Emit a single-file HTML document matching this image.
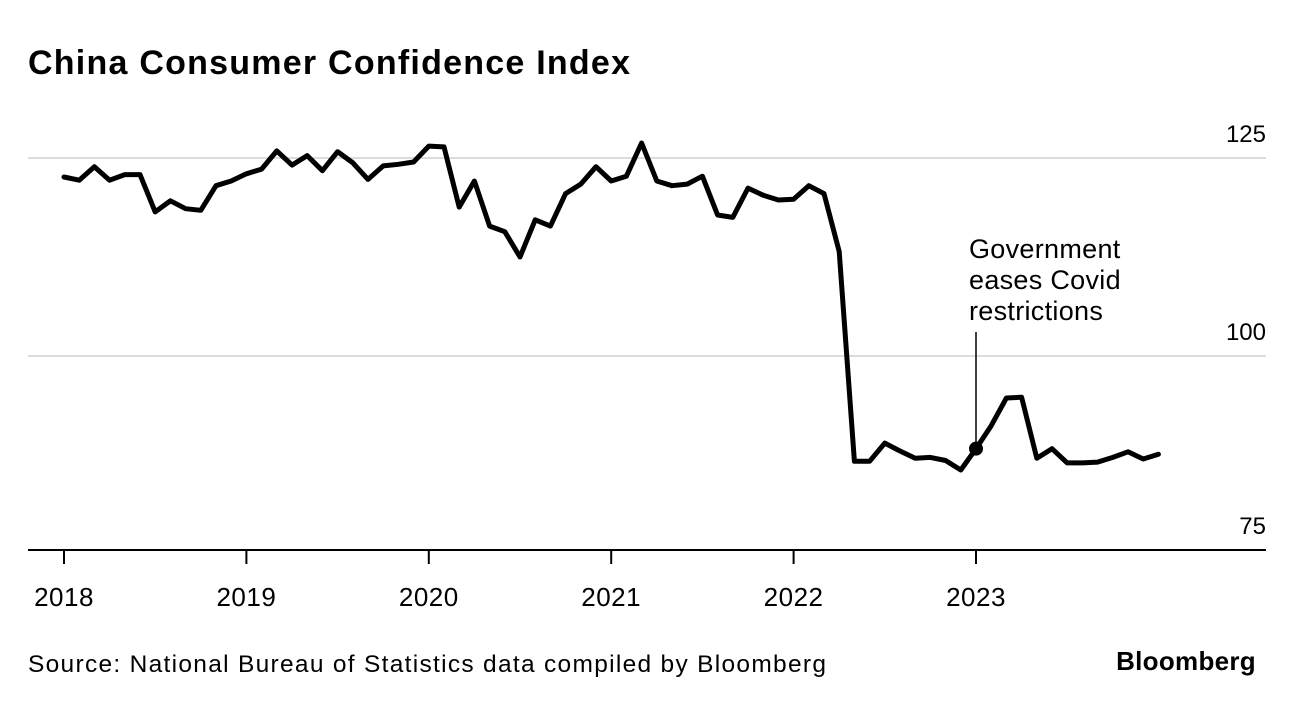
<!DOCTYPE html>
<html><head><meta charset="utf-8"><style>
body{margin:0;background:#fff;width:1296px;height:704px;overflow:hidden;font-family:"Liberation Sans",sans-serif}
</style></head><body>
<svg width="1296" height="704" style="position:absolute;left:0;top:0">
<text x="28" y="74" font-size="34" font-weight="bold" fill="#000" textLength="602" lengthAdjust="spacing">China Consumer Confidence Index</text>
<g id="grid"></g>
<g id="xaxis"></g>
<path id="line" fill="none" stroke="#000" stroke-width="5" stroke-linejoin="round" stroke-linecap="round"/>
<g id="annot"></g>
<text x="28" y="672" font-size="24.5" fill="#000" textLength="798" lengthAdjust="spacing">Source: National Bureau of Statistics data compiled by Bloomberg</text>
<text x="1256" y="670" font-size="26" font-weight="bold" text-anchor="end" fill="#000" letter-spacing="0.3">Bloomberg</text>
</svg>
<script>
const values=[122.6,122.2,123.9,122.2,122.9,122.9,118.2,119.6,118.6,118.4,121.5,122.1,
123.0,123.6,125.9,124.1,125.3,123.4,125.8,124.4,122.3,124.0,124.2,124.5,
126.5,126.4,118.8,122.1,116.4,115.7,112.5,117.2,116.4,120.5,121.7,123.9,
122.1,122.7,126.9,122.1,121.5,121.7,122.7,117.8,117.5,121.2,120.3,119.7,
119.8,121.5,120.5,113.2,86.7,86.7,89.0,88.0,87.1,87.2,86.8,85.6,
88.3,91.2,94.7,94.8,87.1,88.3,86.5,86.5,86.6,87.2,87.9,87.0,87.6];
const yTicks=[75,100,125];
const xLabels=["2018","2019","2020","2021","2022","2023"];
const annotIndex=60;
const annotText=["Government","eases Covid","restrictions"];
const NS="http://www.w3.org/2000/svg";
const xs=i=>64+i*(182.4/12);
const ys=v=>158+(125-v)*7.92;
function mk(t,a,p){const e=document.createElementNS(NS,t);for(const k in a)e.setAttribute(k,a[k]);p.appendChild(e);return e;}
const grid=document.getElementById('grid');
yTicks.forEach(v=>{
  const y=v===75?550:ys(v);
  const l=mk('line',{x1:28,x2:1266,y1:y,y2:y,stroke:v===75?'#000':'#dcdcdc','stroke-width':2},grid);
  
  
  const t=mk('text',{x:1266,y:y-16,'font-size':24,'text-anchor':'end',fill:'#000'},grid);
  t.textContent=v;
  
  
});
const xa=document.getElementById('xaxis');
xLabels.forEach((s,k)=>{
  const x=xs(k*12);
  const tk=mk('line',{x1:x,x2:x,y1:550,y2:564,stroke:'#000','stroke-width':2},xa);
  
  
  const t=mk('text',{x:x,y:606,'font-size':26,'text-anchor':'middle',fill:'#000','letter-spacing':0.5},xa);
  t.textContent=s;
  
  
});
document.getElementById('line').setAttribute('d',values.map((v,i)=>(i?'L':'M')+xs(i).toFixed(1)+','+ys(v).toFixed(1)).join(''));
const an=document.getElementById('annot');
const ax=xs(annotIndex),ay=ys(values[annotIndex]);
const al=mk('line',{x1:ax,x2:ax,y1:ay,y2:332,stroke:'#000','stroke-width':1.5},an);


const dot=mk('circle',{cx:ax,cy:ay,r:7,fill:'#000'},an);


annotText.forEach((s,k)=>{
  const t=mk('text',{x:ax-7,y:258+k*31,'font-size':27,fill:'#000','letter-spacing':0.3},an);
  t.textContent=s;
  
  
});
</script>
</body></html>
